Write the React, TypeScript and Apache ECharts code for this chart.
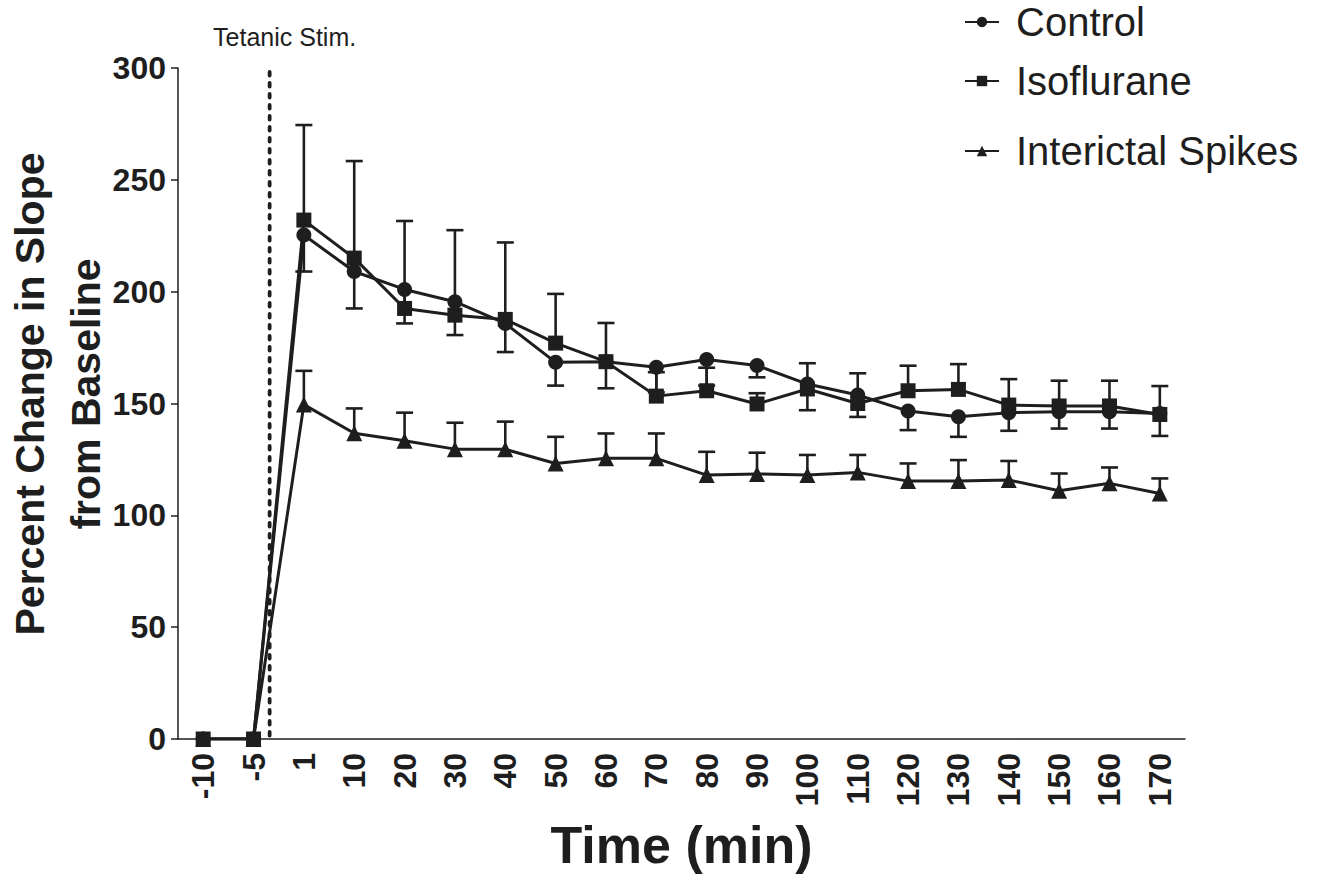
import React, { useEffect, useRef } from "react";
import * as echarts from "echarts";

const categories = ["-10", "-5", "1", "10", "20", "30", "40", "50", "60", "70", "80", "90", "100", "110", "120", "130", "140", "150", "160", "170"];
const control = [0, 0, 225.3, 209, 201, 195.5, 185.8, 168.4, 168.7, 166.2, 169.7, 167, 158.7, 153.8, 146.6, 144.1, 145.9, 146.3, 146.3, 145.5];
const controlErrEnd = [null, null, 209, 192.5, 185.8, 180.6, 173, 158, 156.8, 155, 158, 161.7, 147, 144, 138.1, 135.1, 137.8, 138.8, 138.8, 135.5];
const isoflurane = [0, 0, 232, 215, 192.5, 189.5, 187.6, 177, 168.7, 153.3, 155.7, 149.8, 156.5, 150, 155.7, 156.3, 149.3, 148.9, 148.9, 145.1];
const isofluraneErrEnd = [null, null, 274.5, 258.4, 231.6, 227.5, 222, 199, 186, 164, 166, 154.6, 168, 163.5, 166.9, 167.6, 160.9, 160.2, 160.2, 157.8];
const spikes = [0, 0, 149.5, 136.7, 133.3, 129.6, 129.5, 123.2, 125.5, 125.5, 118, 118.5, 118, 119.2, 115.3, 115.3, 115.8, 111, 114.3, 109.8];
const spikesErrEnd = [null, null, 164.6, 147.8, 145.9, 141.4, 141.9, 135.1, 136.6, 136.6, 128.4, 128, 127, 127, 123.2, 124.7, 124.3, 118.7, 121.4, 116.5];
const yTicks = { min: 0, max: 300, interval: 50 };
const stimLabel = "Tetanic Stim.";
const yTitle = "Percent Change in Slope\nfrom Baseline";

const INK = "#1e1e1e";
const FONT = "'Liberation Sans', Arial, sans-serif";

function errData(means: number[], ends: (number | null)[]) {
  const out: any[] = [];
  categories.forEach((c, i) => {
    if (ends[i] != null) out.push([c, means[i], ends[i]]);
  });
  return out;
}

function errSeries(name: string, means: number[], ends: (number | null)[]) {
  return {
    type: "custom",
    name: name + " err",
    data: errData(means, ends),
    encode: { x: 0, y: [1, 2] },
    z: 1,
    silent: true,
    renderItem: (params: any, api: any) => {
      const xi = api.value(0);
      const p0 = api.coord([xi, api.value(1)]);
      const p1 = api.coord([xi, api.value(2)]);
      const half = 8.5;
      return {
        type: "group",
        children: [
          { type: "line", shape: { x1: p0[0], y1: p0[1], x2: p1[0], y2: p1[1] }, style: { stroke: INK, lineWidth: 2.6 } },
          { type: "line", shape: { x1: p1[0] - half, y1: p1[1], x2: p1[0] + half, y2: p1[1] }, style: { stroke: INK, lineWidth: 2.6 } },
        ],
      };
    },
  };
}

function lineSeries(name: string, data: number[], symbol: string, size: number) {
  return {
    type: "line",
    name,
    data,
    symbol,
    symbolSize: size,
    z: 3,
    itemStyle: { color: INK, borderWidth: 0 },
    lineStyle: { color: INK, width: 3 },
  };
}

function legendAt(name: string, top: number) {
  return {
    data: [name],
    left: 964,
    top,
    orient: "vertical",
    padding: 0,
    itemWidth: 34,
    itemHeight: 13,
    textStyle: { fontSize: 40, color: INK, fontFamily: FONT, padding: [0, 0, 0, 12] },
  };
}

export default function App() {
  const ref = useRef<HTMLDivElement>(null);
  useEffect(() => {
    document.body.style.margin = "0";
    const chart = echarts.init(ref.current!, null, { renderer: "svg" });
    const option: any = {
      animation: false,
      backgroundColor: "#ffffff",
      textStyle: { fontFamily: FONT },
      grid: { left: 178, right: 141, top: 68, bottom: 139, containLabel: false, outerBoundsMode: "none" },
      legend: [legendAt("Control", 2), legendAt("Isoflurane", 61), legendAt("Interictal Spikes", 131)],
      xAxis: {
        type: "category",
        data: categories,
        boundaryGap: true,
        name: "Time (min)",
        nameLocation: "middle",
        nameGap: 80,
        nameTextStyle: { fontSize: 52, fontWeight: "bold", color: INK, fontFamily: FONT },
        axisLine: { lineStyle: { color: INK, width: 1.5 } },
        axisTick: { alignWithLabel: true, length: 7, lineStyle: { color: INK, width: 1.5 } },
        axisLabel: { rotate: 90, margin: 14, fontSize: 32, fontWeight: "bold", color: INK, fontFamily: FONT, interval: 0 },
        splitLine: { show: false },
      },
      yAxis: {
        type: "value",
        min: yTicks.min,
        max: yTicks.max,
        interval: yTicks.interval,
        axisLine: { show: true, lineStyle: { color: INK, width: 1.5 } },
        axisTick: { show: true, length: 7, lineStyle: { color: INK, width: 1.5 } },
        axisLabel: { margin: 12, fontSize: 32, fontWeight: "bold", color: INK, fontFamily: FONT },
        splitLine: { show: false },
      },
      series: [
        errSeries("Interictal Spikes", spikes, spikesErrEnd),
        errSeries("Control", control, controlErrEnd),
        errSeries("Isoflurane", isoflurane, isofluraneErrEnd),
        lineSeries("Interictal Spikes", spikes, "triangle", 16),
        lineSeries("Control", control, "circle", 15),
        lineSeries("Isoflurane", isoflurane, "rect", 15),
      ],
    };
    chart.setOption(option);
    const xa = chart.convertToPixel({ xAxisIndex: 0 }, "-5") as unknown as number;
    const xb = chart.convertToPixel({ xAxisIndex: 0 }, "1") as unknown as number;
    const yTop = chart.convertToPixel({ yAxisIndex: 0 }, yTicks.max) as unknown as number;
    const yBot = chart.convertToPixel({ yAxisIndex: 0 }, yTicks.min) as unknown as number;
    const xs = xa + (xb - xa) * 0.32;
    chart.setOption({
      graphic: [
        {
          type: "line",
          z: 5,
          shape: { x1: xs, y1: yTop + 4, x2: xs, y2: yBot },
          style: { stroke: INK, lineWidth: 3.8, lineDash: [3.5, 7.5], lineCap: "round" },
        },
        {
          type: "text",
          x: xs + 15,
          y: 37,
          style: { text: stimLabel, fontSize: 25, fill: INK, fontFamily: FONT, align: "center", verticalAlign: "middle" },
        },
        {
          type: "text",
          x: 58,
          y: 394,
          rotation: Math.PI / 2,
          style: {
            text: yTitle,
            fontSize: 41,
            fontWeight: "bold",
            lineHeight: 56,
            fill: INK,
            fontFamily: FONT,
            align: "center",
            verticalAlign: "middle",
          },
        },
      ],
    });
    return () => chart.dispose();
  }, []);
  return <div ref={ref} style={{ position: "fixed", left: 0, top: 0, width: 1326, height: 878 }} />;
}
